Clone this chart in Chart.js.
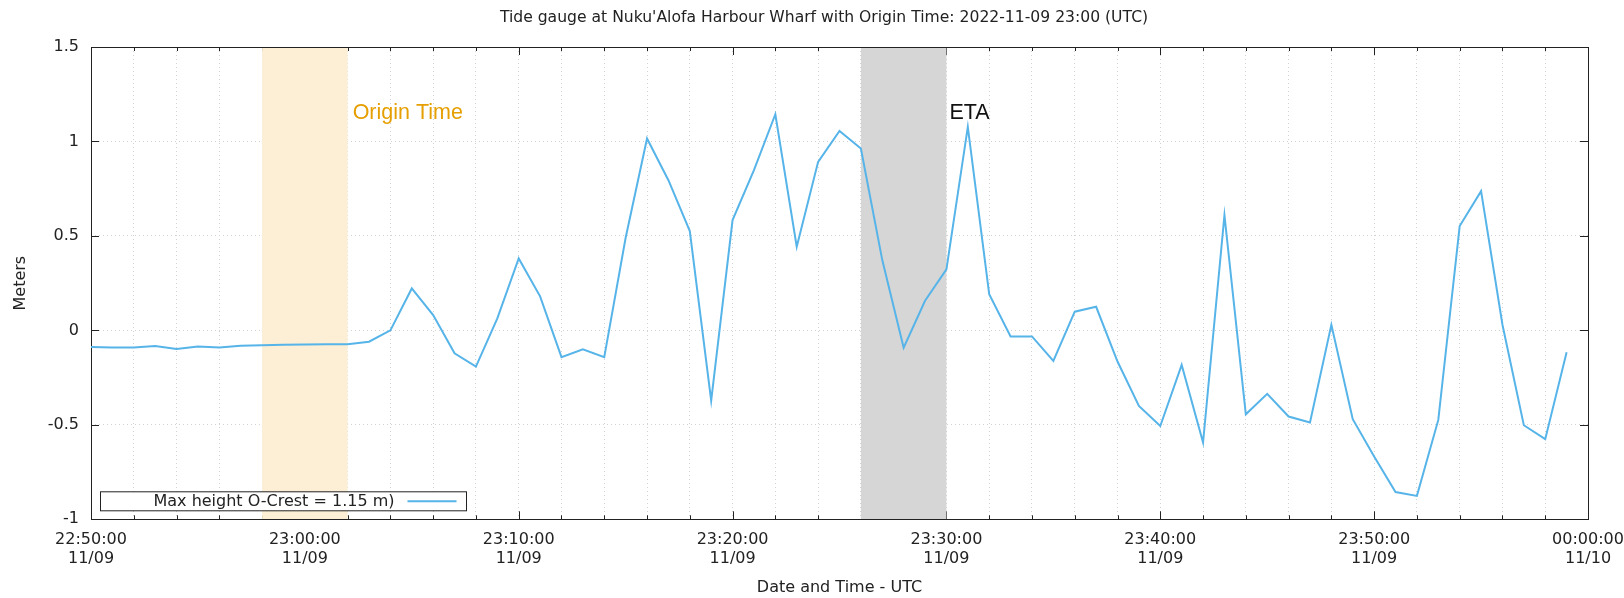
<!DOCTYPE html>
<html>
<head>
<meta charset="utf-8">
<script src="https://cdn.jsdelivr.net/npm/chart.js@4.4.0/dist/chart.umd.min.js"></script>
<style>
  html, body { margin: 0; padding: 0; background: #fff; }
  canvas { display: block; }
</style>
</head>
<body>
<canvas id="tide" width="1624" height="598"></canvas>
<script>
const chartTitle = "Tide gauge at Nuku'Alofa Harbour Wharf with Origin Time: 2022-11-09 23:00 (UTC)";
const seriesLabel = 'Max height O-Crest = 1.15 m)';

// one reading per minute, UTC
const times = [
  '22:50', '22:51', '22:52', '22:53', '22:54', '22:55', '22:56', '22:57', '22:58', '22:59',
  '23:00', '23:01', '23:02', '23:03', '23:04', '23:05', '23:06', '23:07', '23:08', '23:09',
  '23:10', '23:11', '23:12', '23:13', '23:14', '23:15', '23:16', '23:17', '23:18', '23:19',
  '23:20', '23:21', '23:22', '23:23', '23:24', '23:25', '23:26', '23:27', '23:28', '23:29',
  '23:30', '23:31', '23:32', '23:33', '23:34', '23:35', '23:36', '23:37', '23:38', '23:39',
  '23:40', '23:41', '23:42', '23:43', '23:44', '23:45', '23:46', '23:47', '23:48', '23:49',
  '23:50', '23:51', '23:52', '23:53', '23:54', '23:55', '23:56', '23:57', '23:58', '23:59'
];
const heights = [
  -0.088, -0.090, -0.091, -0.083, -0.099, -0.085, -0.090, -0.081, -0.079, -0.076,
  -0.075, -0.074, -0.074, -0.060, 0.000, 0.222, 0.081, -0.121, -0.192, 0.064,
  0.381, 0.180, -0.142, -0.100, -0.142, 0.490, 1.016, 0.795, 0.526, -0.372,
  0.584, 0.848, 1.144, 0.443, 0.892, 1.056, 0.963, 0.372, -0.092, 0.157,
  0.323, 1.077, 0.192, -0.032, -0.032, -0.162, 0.099, 0.125, -0.165, -0.400,
  -0.506, -0.183, -0.594, 0.610, -0.444, -0.336, -0.456, -0.488, 0.029, -0.470,
  -0.668, -0.856, -0.876, -0.474, 0.552, 0.737, 0.030, -0.502, -0.576, -0.116
];

const xRange = ['22:50', '00:00'];
const originBand = ['22:58', '23:02'];
const etaBand = ['23:26', '23:30'];
const bandLabelLevel = 1.15;
const yRange = [-1, 1.5];

const lineColor = '#56b4e9';
const textColor = '#222';
const gridColor = '#d2d2d2';
const font = 'DejaVu Sans';

// minutes after 22:50 on 11/09 (wraps past midnight)
const baseMin = 22 * 60 + 50;
function toMinutes(t) {
  const [h, m] = t.split(':').map(Number);
  let d = h * 60 + m - baseMin;
  if (d < 0) d += 1440;
  return d;
}
function tickLabel(v) {
  const total = baseMin + v;
  const day = 9 + Math.floor(total / 1440);
  const clock = total % 1440;
  const hh = String(Math.floor(clock / 60)).padStart(2, '0');
  const mm = String(clock % 60).padStart(2, '0');
  return [hh + ':' + mm + ':00', '11/' + String(day).padStart(2, '0')];
}

const gnuplotLook = {
  id: 'gnuplotLook',
  beforeDatasetsDraw(chart) {
    const { ctx, chartArea: a, scales: { x, y } } = chart;
    ctx.save();
    ctx.strokeStyle = textColor;
    ctx.lineWidth = 1;
    ctx.beginPath();
    x.ticks.forEach(t => {
      const px = Math.round(x.getPixelForValue(t.value)) + 0.5;
      const len = t.value % 10 === 0 ? 8 : 4;
      ctx.moveTo(px, a.bottom); ctx.lineTo(px, a.bottom - len);
      ctx.moveTo(px, a.top); ctx.lineTo(px, a.top + len);
    });
    y.ticks.forEach(t => {
      const py = Math.round(y.getPixelForValue(t.value)) + 0.5;
      ctx.moveTo(a.left, py); ctx.lineTo(a.left + 8, py);
      ctx.moveTo(a.right, py); ctx.lineTo(a.right - 8, py);
    });
    ctx.stroke();

    // shaded windows, opaque so they hide the grid
    [[originBand, '#fcefd6'], [etaBand, '#d6d6d6']].forEach(([band, fill]) => {
      const x0 = x.getPixelForValue(toMinutes(band[0]));
      const x1 = x.getPixelForValue(toMinutes(band[1]));
      ctx.fillStyle = fill;
      ctx.fillRect(x0, a.top, x1 - x0, a.bottom - a.top);
    });

    ctx.strokeRect(Math.round(a.left) + 0.5, Math.round(a.top) + 0.5,
      Math.round(a.right - a.left), Math.round(a.bottom - a.top));
    ctx.restore();
  },
  afterDatasetsDraw(chart) {
    const { ctx, chartArea: a, scales: { x, y } } = chart;
    ctx.save();
    // band labels
    const ly = y.getPixelForValue(bandLabelLevel);
    ctx.font = '21.5px "Liberation Sans"';
    ctx.textBaseline = 'middle';
    ctx.textAlign = 'left';
    ctx.fillStyle = '#e69f00';
    ctx.fillText('Origin Time', x.getPixelForValue(toMinutes(originBand[1])) + 5, ly);
    ctx.fillStyle = '#111';
    ctx.fillText('ETA', x.getPixelForValue(toMinutes(etaBand[1])) + 3, ly);

    // legend box
    const bx = a.left + 9.5, by = a.bottom - 27.5, bw = 366, bh = 19;
    ctx.fillStyle = '#fff';
    ctx.fillRect(bx, by, bw, bh);
    ctx.strokeStyle = textColor;
    ctx.lineWidth = 1;
    ctx.strokeRect(bx, by, bw, bh);
    ctx.font = '16px "' + font + '"';
    ctx.fillStyle = textColor;
    ctx.textAlign = 'right';
    ctx.fillText(chart.data.datasets[0].label, bx + 294, by + bh / 2 + 1);
    ctx.strokeStyle = lineColor;
    ctx.lineWidth = 2;
    ctx.beginPath();
    ctx.moveTo(bx + 307, by + bh / 2);
    ctx.lineTo(bx + 356, by + bh / 2);
    ctx.stroke();

    // title
    ctx.font = '15.6px "' + font + '"';
    ctx.fillStyle = textColor;
    ctx.textAlign = 'center';
    ctx.fillText(chartTitle, 824, 18);
    ctx.restore();
  }
};

new Chart(document.getElementById('tide'), {
  type: 'line',
  data: {
    datasets: [{
      label: seriesLabel,
      data: times.map((t, i) => ({ x: toMinutes(t), y: heights[i] })),
      borderColor: lineColor,
      borderWidth: 2,
      pointRadius: 0,
      tension: 0,
      fill: false
    }]
  },
  options: {
    responsive: false,
    animation: false,
    devicePixelRatio: 1,
    layout: { padding: { top: 47, left: 0, right: 0, bottom: 0 } },
    plugins: {
      legend: { display: false },
      title: { display: false },
      tooltip: { enabled: false }
    },
    scales: {
      x: {
        type: 'linear',
        min: toMinutes(xRange[0]),
        max: toMinutes(xRange[1]),
        afterFit(s) { s.height = 78.7; s.paddingLeft = 0; s.paddingRight = 36; },
        ticks: {
          stepSize: 2,
          autoSkip: false,
          maxRotation: 0,
          padding: 11,
          color: textColor,
          font: { family: font, size: 16 },
          callback: v => (v % 10 === 0 ? tickLabel(v) : '')
        },
        grid: { color: gridColor, drawTicks: false },
        border: { display: false, dash: [1, 3] },
        title: {
          display: true,
          text: 'Date and Time - UTC',
          color: textColor,
          font: { family: font, size: 16 },
          padding: { top: 0, bottom: 1 }
        }
      },
      y: {
        min: yRange[0],
        max: yRange[1],
        afterFit(s) { s.width = 91; s.paddingTop = 0; s.paddingBottom = 0; },
        ticks: {
          stepSize: 0.5,
          padding: 12,
          color: textColor,
          font: { family: font, size: 16 },
          callback: v => String(v)
        },
        grid: { color: gridColor, drawTicks: false },
        border: { display: false, dash: [1, 3] },
        title: {
          display: true,
          text: 'Meters',
          color: textColor,
          font: { family: font, size: 16 },
          padding: { top: 11, bottom: 0 }
        }
      }
    }
  },
  plugins: [gnuplotLook]
});
</script>
</body>
</html>
